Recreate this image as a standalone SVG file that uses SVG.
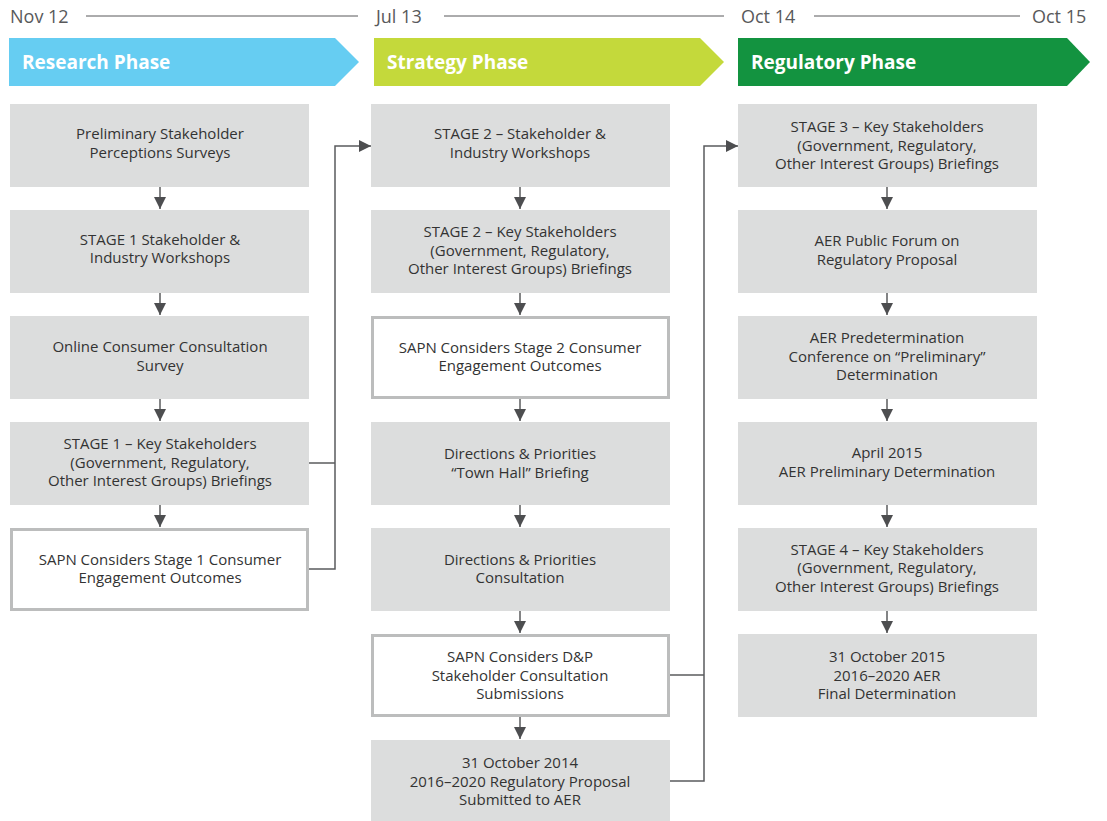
<svg xmlns="http://www.w3.org/2000/svg" width="1107" height="821" viewBox="0 0 1107 821">
<style>
.date{font-family:"Open Sans","Liberation Sans",Arial,sans-serif;font-size:18px;fill:#58595b}
.tl{stroke:#58595b;stroke-width:1}
.ph{font-family:"Open Sans","Liberation Sans",Arial,sans-serif;font-size:19px;font-weight:bold;fill:#fff}
.box{fill:#dcdddd}
.wbox{fill:#fff;stroke:#bcbdbd;stroke-width:3}
.t{font-family:"Open Sans","Liberation Sans",Arial,sans-serif;font-size:15px;fill:#333;text-anchor:middle}
.c{stroke:#5a5b5d;stroke-width:1.5;fill:none}
</style>
<defs>
<marker id="ah" markerUnits="userSpaceOnUse" markerWidth="14" markerHeight="14" viewBox="0 0 14 14" refX="12" refY="7" orient="auto">
<path d="M0,1 L12,7 L0,13 Z" fill="#4d4e50"/>
</marker>
</defs>
<g id="timeline">
<text class="date" x="10" y="23">Nov 12</text>
<line class="tl" x1="86" y1="16" x2="358" y2="16"/>
<text class="date" x="376" y="23">Jul 13</text>
<line class="tl" x1="444" y1="16" x2="724" y2="16"/>
<text class="date" x="741" y="23">Oct 14</text>
<line class="tl" x1="814" y1="16" x2="1020" y2="16"/>
<text class="date" x="1032" y="23">Oct 15</text>
</g>
<g id="phase-research">
<polygon points="9,38 335,38 359,62 335,86 9,86" fill="#66cdf2"/>
<text class="ph" x="22" y="69">Research Phase</text>
</g>
<g id="phase-strategy">
<polygon points="374,38 700,38 724,62 700,86 374,86" fill="#c4d93b"/>
<text class="ph" x="387" y="69">Strategy Phase</text>
</g>
<g id="phase-regulatory">
<polygon points="738,38 1067,38 1090,62 1067,86 738,86" fill="#139340"/>
<text class="ph" x="751" y="69">Regulatory Phase</text>
</g>

<g id="connectors">
<line class="c" x1="160" y1="187" x2="160" y2="209" marker-end="url(#ah)"/>
<line class="c" x1="160" y1="293" x2="160" y2="315" marker-end="url(#ah)"/>
<line class="c" x1="160" y1="399" x2="160" y2="421" marker-end="url(#ah)"/>
<line class="c" x1="160" y1="505" x2="160" y2="527" marker-end="url(#ah)"/>
<line class="c" x1="520" y1="187" x2="520" y2="209" marker-end="url(#ah)"/>
<line class="c" x1="520" y1="293" x2="520" y2="315" marker-end="url(#ah)"/>
<line class="c" x1="520" y1="399" x2="520" y2="421" marker-end="url(#ah)"/>
<line class="c" x1="520" y1="505" x2="520" y2="527" marker-end="url(#ah)"/>
<line class="c" x1="520" y1="611" x2="520" y2="633" marker-end="url(#ah)"/>
<line class="c" x1="520" y1="717" x2="520" y2="739" marker-end="url(#ah)"/>
<line class="c" x1="887" y1="187" x2="887" y2="209" marker-end="url(#ah)"/>
<line class="c" x1="887" y1="293" x2="887" y2="315" marker-end="url(#ah)"/>
<line class="c" x1="887" y1="399" x2="887" y2="421" marker-end="url(#ah)"/>
<line class="c" x1="887" y1="505" x2="887" y2="527" marker-end="url(#ah)"/>
<line class="c" x1="887" y1="611" x2="887" y2="633" marker-end="url(#ah)"/>
<line class="c" x1="309" y1="463" x2="335" y2="463"/>
<polyline class="c" points="309,569 335,569 335,146 371,146" marker-end="url(#ah)"/>
<line class="c" x1="670" y1="675" x2="704" y2="675"/>
<polyline class="c" points="670,781 704,781 704,146 738,146" marker-end="url(#ah)"/>
</g>

<g id="r1"><rect class="box" x="10" y="104" width="299" height="83"/><text class="t" x="160" y="139">Preliminary Stakeholder</text><text class="t" x="160" y="158">Perceptions Surveys</text></g>
<g id="r2"><rect class="box" x="10" y="210" width="299" height="83"/><text class="t" x="160" y="245">STAGE 1 Stakeholder &amp;</text><text class="t" x="160" y="263">Industry Workshops</text></g>
<g id="r3"><rect class="box" x="10" y="316" width="299" height="83"/><text class="t" x="160" y="352">Online Consumer Consultation</text><text class="t" x="160" y="371">Survey</text></g>
<g id="r4"><rect class="box" x="10" y="422" width="299" height="83"/><text class="t" x="160" y="449">STAGE 1 – Key Stakeholders</text><text class="t" x="160" y="468">(Government, Regulatory,</text><text class="t" x="160" y="486">Other Interest Groups) Briefings</text></g>
<g id="r5"><rect class="wbox" x="11.5" y="529.5" width="296" height="80"/><text class="t" x="160" y="565">SAPN Considers Stage 1 Consumer</text><text class="t" x="160" y="583">Engagement Outcomes</text></g>

<g id="s1"><rect class="box" x="371" y="104" width="299" height="83"/><text class="t" x="520" y="139">STAGE 2 – Stakeholder &amp;</text><text class="t" x="520" y="158">Industry Workshops</text></g>
<g id="s2"><rect class="box" x="371" y="210" width="299" height="83"/><text class="t" x="520" y="237">STAGE 2 – Key Stakeholders</text><text class="t" x="520" y="256">(Government, Regulatory,</text><text class="t" x="520" y="274">Other Interest Groups) Briefings</text></g>
<g id="s3"><rect class="wbox" x="372.5" y="317.5" width="296" height="80"/><text class="t" x="520" y="353">SAPN Considers Stage 2 Consumer</text><text class="t" x="520" y="371">Engagement Outcomes</text></g>
<g id="s4"><rect class="box" x="371" y="422" width="299" height="83"/><text class="t" x="520" y="459">Directions &amp; Priorities</text><text class="t" x="520" y="478">“Town Hall” Briefing</text></g>
<g id="s5"><rect class="box" x="371" y="528" width="299" height="83"/><text class="t" x="520" y="565">Directions &amp; Priorities</text><text class="t" x="520" y="583">Consultation</text></g>
<g id="s6"><rect class="wbox" x="372.5" y="635.5" width="296" height="80"/><text class="t" x="520" y="662">SAPN Considers D&amp;P</text><text class="t" x="520" y="681">Stakeholder Consultation</text><text class="t" x="520" y="699">Submissions</text></g>
<g id="s7"><rect class="box" x="371" y="740" width="299" height="81"/><text class="t" x="520" y="768">31 October 2014</text><text class="t" x="520" y="787">2016–2020 Regulatory Proposal</text><text class="t" x="520" y="805">Submitted to AER</text></g>

<g id="g1"><rect class="box" x="738" y="104" width="299" height="83"/><text class="t" x="887" y="132">STAGE 3 – Key Stakeholders</text><text class="t" x="887" y="151">(Government, Regulatory,</text><text class="t" x="887" y="169">Other Interest Groups) Briefings</text></g>
<g id="g2"><rect class="box" x="738" y="210" width="299" height="83"/><text class="t" x="887" y="246">AER Public Forum on</text><text class="t" x="887" y="265">Regulatory Proposal</text></g>
<g id="g3"><rect class="box" x="738" y="316" width="299" height="83"/><text class="t" x="887" y="343">AER Predetermination</text><text class="t" x="887" y="362">Conference on “Preliminary”</text><text class="t" x="887" y="380">Determination</text></g>
<g id="g4"><rect class="box" x="738" y="422" width="299" height="83"/><text class="t" x="887" y="458">April 2015</text><text class="t" x="887" y="477">AER Preliminary Determination</text></g>
<g id="g5"><rect class="box" x="738" y="528" width="299" height="83"/><text class="t" x="887" y="555">STAGE 4 – Key Stakeholders</text><text class="t" x="887" y="573">(Government, Regulatory,</text><text class="t" x="887" y="592">Other Interest Groups) Briefings</text></g>
<g id="g6"><rect class="box" x="738" y="634" width="299" height="83"/><text class="t" x="887" y="662">31 October 2015</text><text class="t" x="887" y="681">2016–2020 AER</text><text class="t" x="887" y="699">Final Determination</text></g>
</svg>
